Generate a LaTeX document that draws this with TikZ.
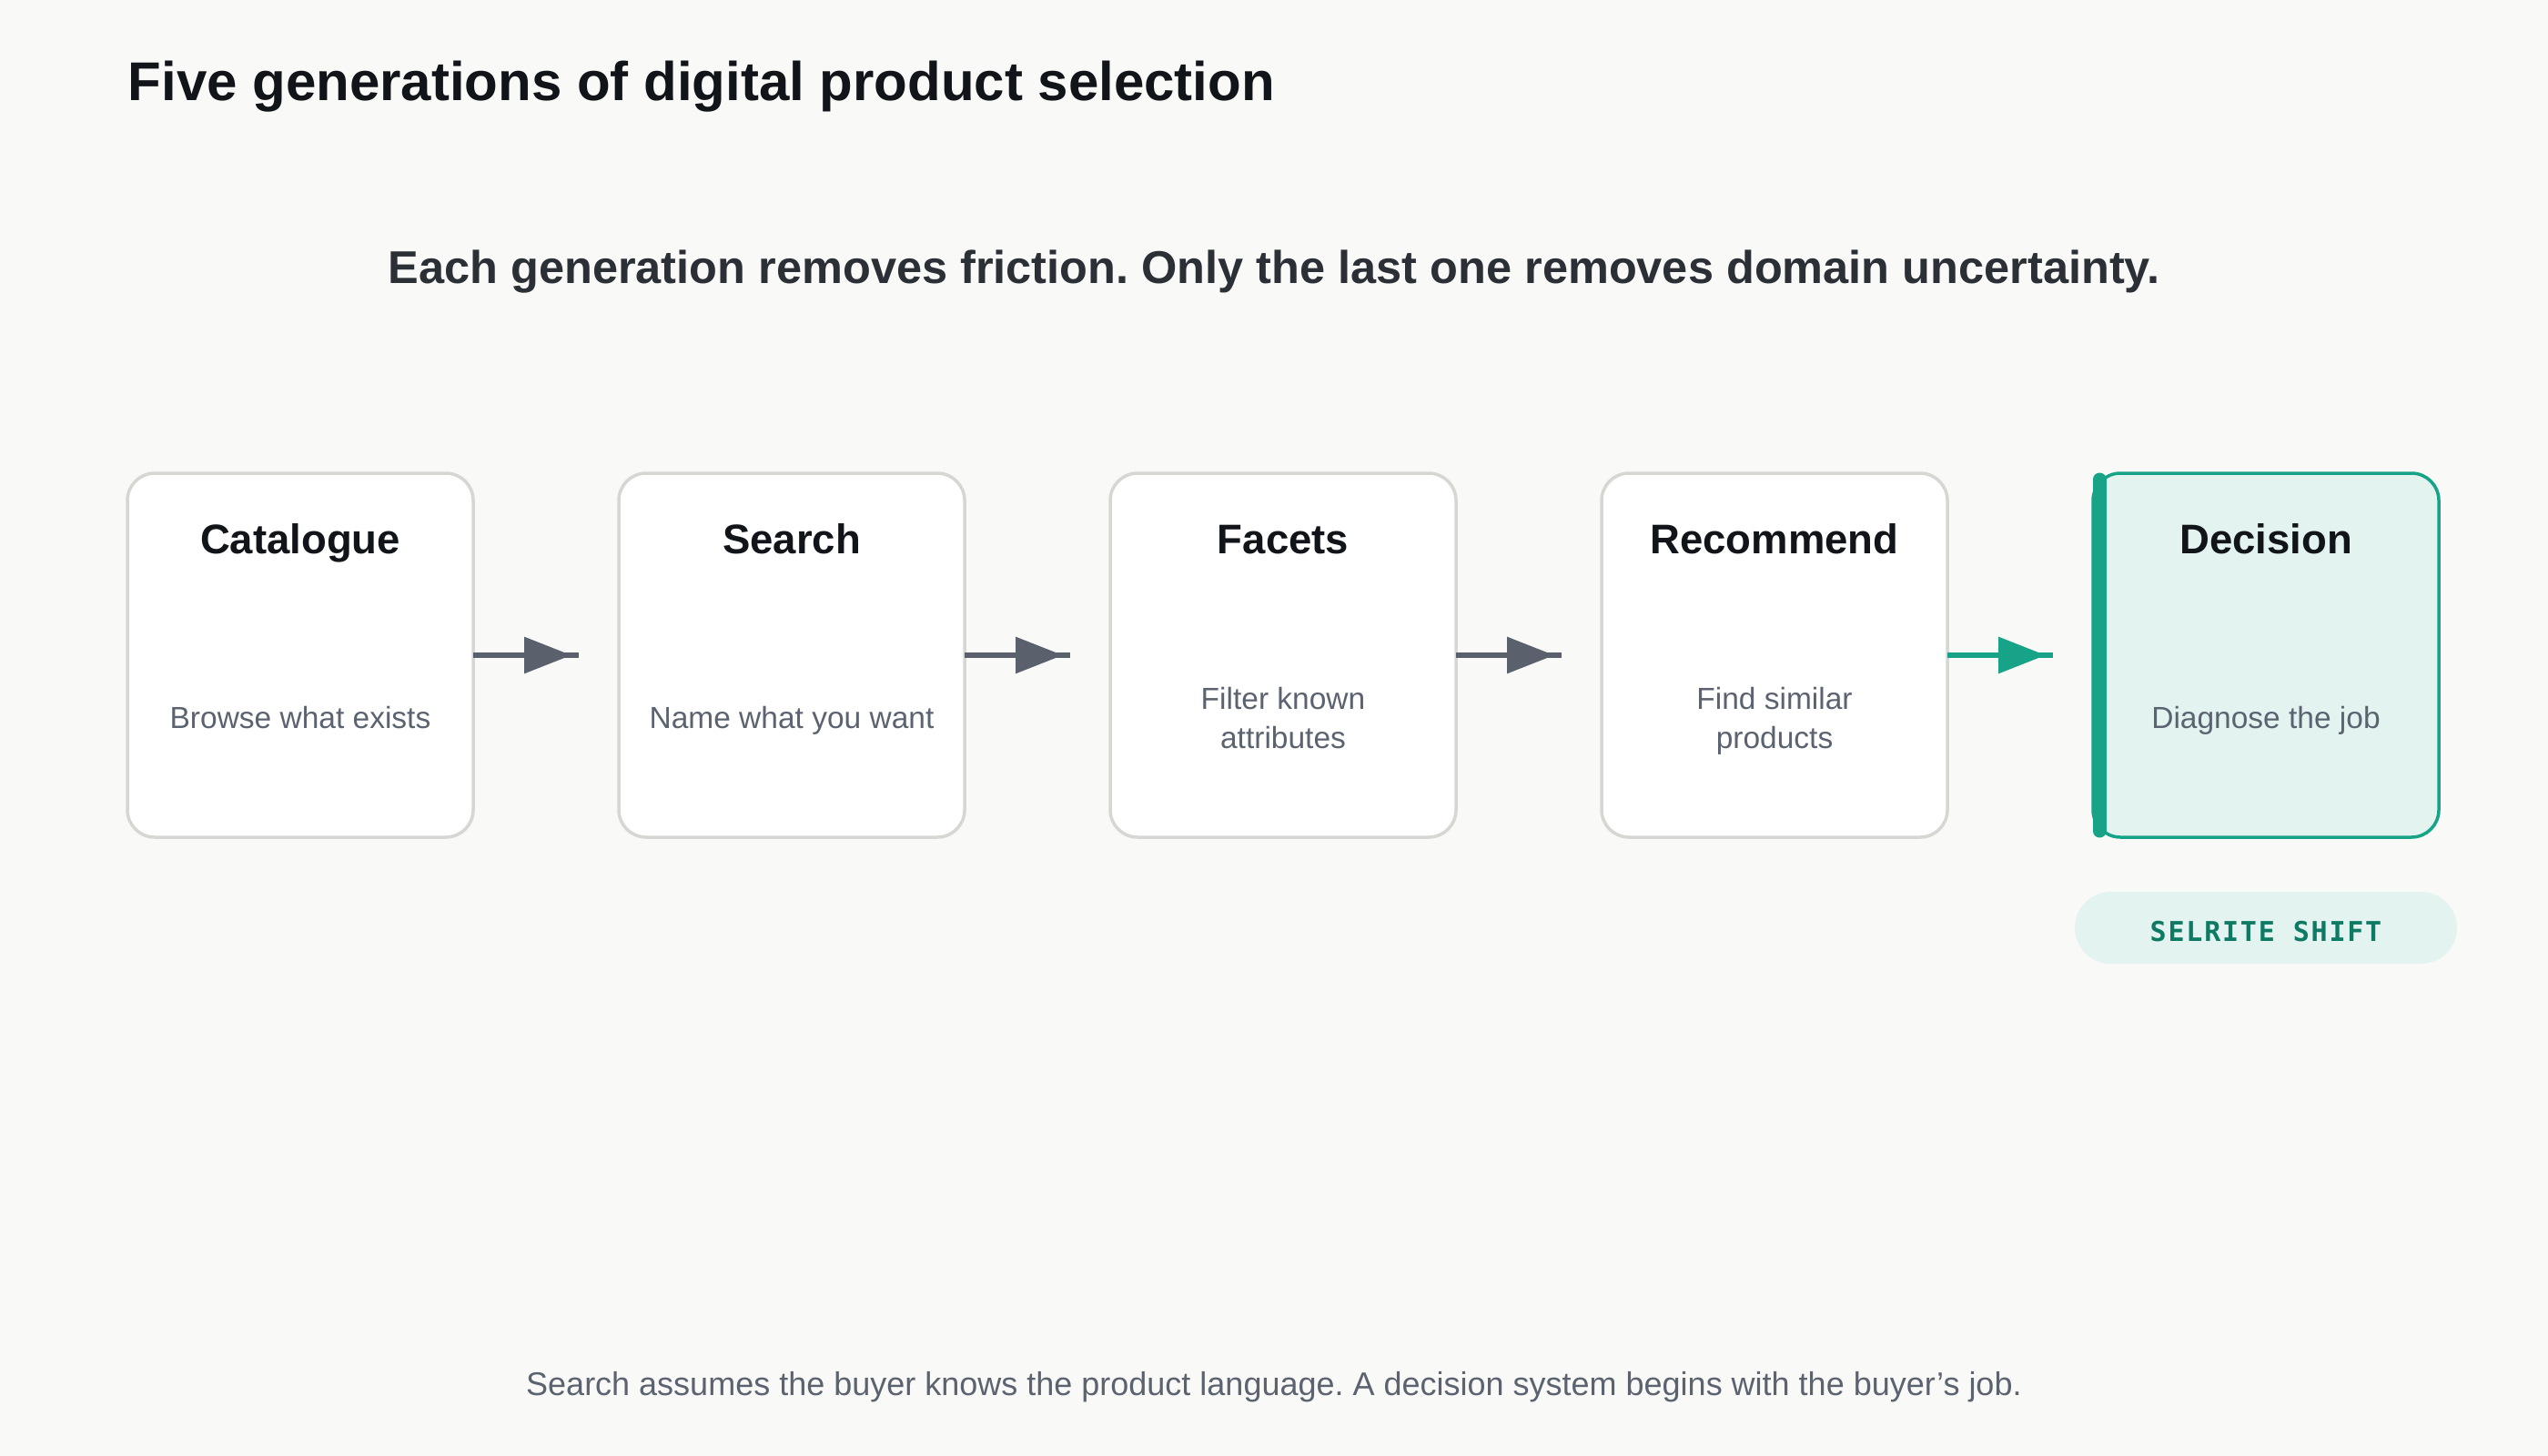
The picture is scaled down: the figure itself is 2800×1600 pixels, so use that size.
\documentclass[tikz,border=0pt]{standalone}
\usepackage{fontspec}
\setmainfont{Liberation Sans}
\newfontfamily\badgefont[LetterSpace=6]{DejaVu Sans Mono}
\usetikzlibrary{calc,arrows.meta}
\definecolor{bgcol}{HTML}{F9F9F7}
\definecolor{cardline}{HTML}{D6D7D3}
\definecolor{ink}{HTML}{111418}
\definecolor{subink}{HTML}{2B2F36}
\definecolor{muted}{HTML}{5B6370}
\definecolor{arrowgray}{HTML}{5A616C}
\definecolor{teal}{HTML}{17A387}
\definecolor{tealbg}{HTML}{E3F4F0}
\definecolor{tealdark}{HTML}{0E7A63}
\tikzset{
  card/.style={rectangle, draw=cardline, line width=3.5pt, fill=white,
    rounded corners=30pt, minimum width=380pt, minimum height=400pt,
    inner sep=0pt, outer sep=0pt},
  keycard/.style={card, draw=teal, fill=tealbg},
  cardtitle/.style={anchor=base, inner sep=0pt, text=ink,
    font={\fontsize{45.5pt}{50pt}\selectfont\bfseries}},
  carddesc/.style={anchor=base, inner sep=0pt, text=muted, align=center,
    font={\fontsize{33.5pt}{43pt}\selectfont}},
  flow/.style={draw=arrowgray, line width=6pt},
  flowtip/.style={flow, -{Triangle[length=52pt,width=39pt]}},
  keyflow/.style={flow, draw=teal},
  keyflowtip/.style={flowtip, draw=teal, fill=teal},
  badge/.style={rectangle, fill=tealbg, rounded corners=39.5pt,
    minimum width=420pt, minimum height=79pt, inner sep=0pt},
  badgetext/.style={anchor=base, inner sep=0pt, text=tealdark,
    font={\fontsize{30pt}{36pt}\badgefont\bfseries}},
}
\begin{document}
\frenchspacing
\begin{tikzpicture}[x=1pt, y=-1pt]
\fill[bgcol] (0,0) rectangle (2800,1600);
\useasboundingbox (0,0) rectangle (2800,1600);

\node[anchor=base west, inner sep=0pt, text=ink,
  font={\fontsize{60pt}{66pt}\selectfont\bfseries}] (title) at (140.5,111)
  {Five generations of digital product selection};
\node[anchor=base, inner sep=0pt, text=subink,
  font={\fontsize{50.5pt}{56pt}\selectfont\bfseries}] (subtitle) at (1400,311)
  {Each generation removes friction. Only the last one removes domain uncertainty.};

% cards
\node[card] (c1) at (330,720) {};
\node[card] (c2) at (870,720) {};
\node[card] (c3) at (1410,720) {};
\node[card] (c4) at (1950,720) {};
\node[keycard] (c5) at (2490,720) {};
\draw[teal, line width=15pt, line cap=round]
  ($(c5.north west)+(7,7)$) -- ($(c5.south west)+(7,-7)$);

\foreach \i/\t in {1/Catalogue, 2/Search, 3/Facets, 4/Recommend, 5/Decision}
  \node[cardtitle] (t\i) at ($(c\i.north)+(0,88)$) {\t};

\node[carddesc] (d1) at ($(c1.north)+(0,280)$) {Browse what exists};
\node[carddesc] (d2) at ($(c2.north)+(0,280)$) {Name what you want};
\node[carddesc] (d3) at ($(c3.north)+(0,302)$) {Filter known\\attributes};
\node[carddesc] (d4) at ($(c4.north)+(0,302)$) {Find similar\\products};
\node[carddesc] (d5) at ($(c5.north)+(0,280)$) {Diagnose the job};

% connectors
\foreach \i in {1,2,3,4}
{
  \coordinate (h\i) at ($(c\i.east)+(108,0)$);
  \coordinate (e\i) at ($(c\i.east)+(116,0)$);
}
\foreach \i in {1,2,3}
{
  \draw[flowtip] (c\i.east) -- (h\i);
  \draw[flow] (c\i.east) -- (e\i);
}
\draw[keyflowtip] (c4.east) -- (h4);
\draw[keyflow] (c4.east) -- (e4);

% badge
\node[badge] (badge) at (2490,1019.5) {};
\node[badgetext] (badgelabel) at ($(badge.center)+(0,14.5)$) {SELRITE SHIFT};

\node[anchor=base, inner sep=0pt, text=muted,
  font={\fontsize{36pt}{42pt}\selectfont}] (footer) at (1400,1533)
  {Search assumes the buyer knows the product language. A decision system begins with the buyer’s job.};
\end{tikzpicture}
\end{document}
